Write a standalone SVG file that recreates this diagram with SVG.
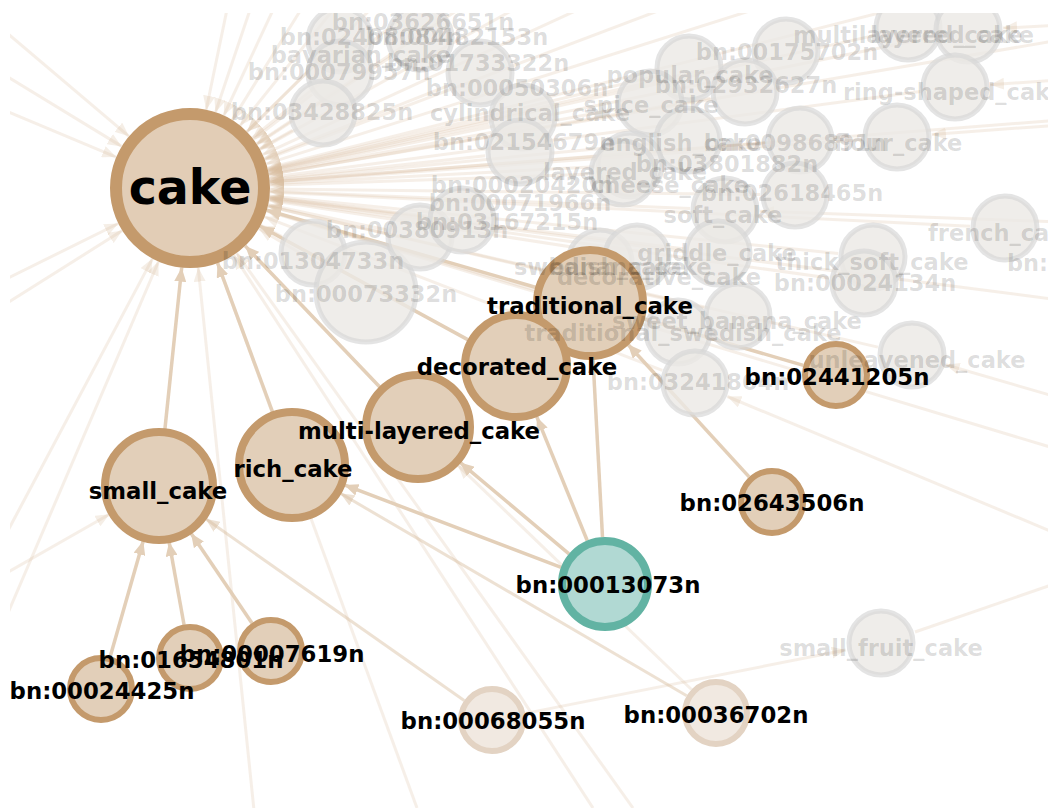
<svg xmlns="http://www.w3.org/2000/svg" width="1052" height="808" viewBox="0 0 1052 808">
<defs>
<style>
.e{stroke:#e3cfb8;stroke-width:3.5;fill:none;marker-end:url(#a)}
.m{stroke:#d8bd9e;stroke-opacity:.45;stroke-width:3;fill:none;marker-end:url(#am)}
.f{stroke:#d8bd9e;stroke-opacity:.24;stroke-width:3;fill:none;marker-end:url(#af)}
.fn{fill:#ebe8e5;fill-opacity:.8;stroke:#d6d6d6;stroke-opacity:.65;stroke-width:5}
.n{fill:#e2cfb9;stroke:#c49a6c;stroke-width:8}
.s{fill:#e2cfb9;stroke:#c49a6c;stroke-width:6}
.p{fill:#f1e9e1;stroke:#e3d3c3;stroke-width:6}
.t{font-family:"DejaVu Sans","Liberation Sans",sans-serif;font-weight:bold;font-size:22.8px;text-anchor:middle;fill:#000}
.ft{font-family:"DejaVu Sans","Liberation Sans",sans-serif;font-weight:bold;font-size:22.5px;text-anchor:middle;fill:#000;fill-opacity:.14}
.st{text-anchor:start}
</style>
<marker id="a" markerUnits="userSpaceOnUse" viewBox="0 0 14 12" markerWidth="14" markerHeight="12" refX="14" refY="6" orient="auto"><path d="M0,0L14,6L0,12z" fill="#e3cfb8"/></marker>
<marker id="am" markerUnits="userSpaceOnUse" viewBox="0 0 14 12" markerWidth="14" markerHeight="12" refX="14" refY="6" orient="auto"><path d="M0,0L14,6L0,12z" fill="#d8bd9e" fill-opacity=".45"/></marker>
<marker id="af" markerUnits="userSpaceOnUse" viewBox="0 0 14 12" markerWidth="14" markerHeight="12" refX="14" refY="6" orient="auto"><path d="M0,0L14,6L0,12z" fill="#d8bd9e" fill-opacity=".26"/></marker>
<clipPath id="vp"><rect x="10" y="13" width="1038" height="795"/></clipPath>
</defs>
<rect width="1052" height="808" fill="#fff"/>
<g clip-path="url(#vp)">
<g id="connectors">
<line class="f" x1="315.1" y1="64.6" x2="247" y2="131.8"/>
<line class="f" x1="312.2" y1="94.3" x2="253.5" y2="139.3"/>
<line class="f" x1="292.5" y1="130.2" x2="259.7" y2="148.7"/>
<line class="f" x1="447.5" y1="85.9" x2="264.4" y2="158.5"/>
<line class="f" x1="488.8" y1="124.3" x2="268.2" y2="171.3"/>
<line class="f" x1="485.2" y1="155.8" x2="269.5" y2="179.3"/>
<line class="f" x1="655" y1="76.2" x2="267.8" y2="169.3"/>
<line class="f" x1="751.9" y1="58.8" x2="268" y2="170.1"/>
<line class="f" x1="615.6" y1="109.4" x2="268.7" y2="173.5"/>
<line class="f" x1="710.5" y1="98" x2="268.8" y2="174.4"/>
<line class="f" x1="873.8" y1="35.6" x2="268.1" y2="170.6"/>
<line class="f" x1="933.7" y1="37" x2="268.4" y2="172.1"/>
<line class="f" x1="920.3" y1="91.6" x2="269.3" y2="177.5"/>
<line class="f" x1="862.1" y1="139.5" x2="269.8" y2="182.2"/>
<line class="f" x1="765.1" y1="142.7" x2="269.8" y2="181.7"/>
<line class="f" x1="653.2" y1="143.4" x2="269.6" y2="180.3"/>
<line class="f" x1="595" y1="166.8" x2="269.9" y2="183.8"/>
<line class="f" x1="760" y1="194.6" x2="270" y2="188.9"/>
<line class="f" x1="690" y1="208.6" x2="269.9" y2="191.3"/>
<line class="f" x1="683.3" y1="248.7" x2="269.4" y2="197.8"/>
<line class="f" x1="838.2" y1="253.5" x2="269.6" y2="196"/>
<line class="f" x1="829.3" y1="278.1" x2="269.2" y2="199.2"/>
<line class="f" x1="970" y1="226.3" x2="269.9" y2="191.9"/>
<line class="f" x1="703.9" y1="308" x2="267.9" y2="206.2"/>
<line class="f" x1="644.4" y1="322.1" x2="266.7" y2="210.6"/>
<line class="f" x1="877.9" y1="347.1" x2="267.9" y2="206"/>
<line class="f" x1="662.3" y1="370.4" x2="264.6" y2="216.8"/>
<line class="f" x1="282" y1="236.6" x2="260.7" y2="225.4"/>
<line class="f" x1="318.6" y1="264" x2="258.9" y2="228.7"/>
<line class="f" x1="385.8" y1="229.7" x2="268.2" y2="204.7"/>
<line class="f" x1="427.2" y1="215.9" x2="269.4" y2="197.3"/>
<line class="f" x1="602.4" y1="251.7" x2="269.1" y2="200.2"/>
<line class="f" x1="588" y1="174.2" x2="270" y2="185.2"/>
<line class="f" x1="390.7" y1="57.1" x2="257" y2="144.3"/>
<line class="f" x1="230" y1="-5" x2="206.2" y2="109.7"/>
<line class="f" x1="255" y1="-5" x2="215.5" y2="112.2"/>
<line class="f" x1="280" y1="-5" x2="223.8" y2="115.5"/>
<line class="f" x1="310" y1="-5" x2="232.2" y2="120.1"/>
<line class="f" x1="345" y1="-5" x2="240.1" y2="125.6"/>
<line class="f" x1="385" y1="-5" x2="246.9" y2="131.7"/>
<line class="f" x1="430" y1="-5" x2="252.3" y2="137.9"/>
<line class="f" x1="480" y1="-5" x2="256.6" y2="143.7"/>
<line class="f" x1="540" y1="-5" x2="260.1" y2="149.4"/>
<line class="f" x1="610" y1="-5" x2="262.7" y2="154.6"/>
<line class="f" x1="700" y1="-5" x2="264.8" y2="159.7"/>
<line class="f" x1="800" y1="-5" x2="266.3" y2="163.9"/>
<line class="f" x1="950" y1="-5" x2="267.5" y2="168.3"/>
<line class="f" x1="1060" y1="40" x2="268.9" y2="174.6"/>
<line class="f" x1="1060" y1="120" x2="269.8" y2="181.8"/>
<line class="f" x1="1060" y1="300" x2="269.3" y2="198.2"/>
<line class="f" x1="1060" y1="450" x2="266.6" y2="211.1"/>
<line class="f" x1="-20" y1="10" x2="129" y2="136.3"/>
<line class="f" x1="-20" y1="60" x2="121.7" y2="146.4"/>
<line class="f" x1="-20" y1="100" x2="116.2" y2="157.1"/>
<line class="f" x1="-20" y1="292" x2="118.3" y2="223.5"/>
<line class="f" x1="-20" y1="320" x2="122.3" y2="230.6"/>
<line class="f" x1="-5" y1="555" x2="152.5" y2="258.6"/>
<line class="f" x1="-10" y1="655" x2="158.5" y2="261.5"/>
<line class="f" x1="255" y1="820" x2="198.2" y2="267.6"/>
<line class="f" x1="417" y1="808" x2="217.5" y2="263.1"/>
<line class="f" x1="593" y1="808" x2="233.6" y2="255.1"/>
<line class="f" x1="633" y1="808" x2="236.5" y2="253.1"/>
<line class="f" x1="-20" y1="588" x2="109.5" y2="514.2"/>
<line class="f" x1="1060" y1="25" x2="1003" y2="28.1"/>
<line class="f" x1="1060" y1="80" x2="990" y2="84.7"/>
<line class="f" x1="1060" y1="125" x2="931.9" y2="134.4"/>
<line class="f" x1="1060" y1="222" x2="760" y2="211.3"/>
<line class="f" x1="1060" y1="398" x2="945.6" y2="364.8"/>
<line class="f" x1="1060" y1="535" x2="727.3" y2="396.5"/>
<line class="f" x1="915" y1="632" x2="1060" y2="582" style="marker-end:none"/>
<line class="f" x1="525.4" y1="713.4" x2="845.7" y2="650"/>
<line class="m" x1="464.2" y1="700.5" x2="205.6" y2="518.8"/>
<line class="m" x1="686.7" y1="695.8" x2="340.3" y2="493.3"/>
<line class="f" x1="691.5" y1="689.5" x2="457.7" y2="465.1"/>
<line class="e" x1="164.9" y1="429.3" x2="181.7" y2="267.6"/>
<line class="e" x1="272.7" y1="412.4" x2="217.6" y2="263.1"/>
<line class="e" x1="380" y1="387.2" x2="245.2" y2="245.9"/>
<line class="e" x1="467.7" y1="339.6" x2="260.2" y2="226.3"/>
<line class="e" x1="536.2" y1="287.5" x2="266.9" y2="210.1"/>
<line class="e" x1="110.3" y1="656.3" x2="143.3" y2="540.8"/>
<line class="e" x1="184" y1="624.5" x2="169.1" y2="542.1"/>
<line class="e" x1="251.9" y1="622.9" x2="191" y2="533.2"/>
<line class="e" x1="561.1" y1="567.3" x2="344.3" y2="484.9"/>
<line class="e" x1="569" y1="553.8" x2="460.1" y2="462.4"/>
<line class="e" x1="587.2" y1="540.5" x2="536.8" y2="416.9"/>
<line class="e" x1="602.5" y1="537.1" x2="593" y2="358.9"/>
<line class="e" x1="749.1" y1="476.9" x2="627.8" y2="344.3"/>
<line class="e" x1="803.4" y1="365.4" x2="643.7" y2="318.7"/>
</g>
<g id="faded-nodes">
<g id="f1"><circle class="fn" cx="340" cy="40" r="32"/></g>
<g id="f36"><circle class="fn" cx="420" cy="38" r="32"/></g>
<g id="f2"><circle class="fn" cx="340" cy="73" r="32"/></g>
<g id="f3"><circle class="fn" cx="323" cy="113" r="32"/></g>
<g id="f4"><circle class="fn" cx="480" cy="73" r="32"/></g>
<g id="f5"><circle class="fn" cx="523" cy="117" r="32"/></g>
<g id="f6"><circle class="fn" cx="520" cy="152" r="32"/></g>
<g id="f7"><circle class="fn" cx="689" cy="68" r="32"/></g>
<g id="f8"><circle class="fn" cx="786" cy="51" r="32"/></g>
<g id="f9"><circle class="fn" cx="650" cy="103" r="32"/></g>
<g id="f10"><circle class="fn" cx="745" cy="92" r="32"/></g>
<g id="f11"><circle class="fn" cx="908" cy="28" r="32"/></g>
<g id="f12"><circle class="fn" cx="968" cy="30" r="32"/></g>
<g id="f13"><circle class="fn" cx="955" cy="87" r="32"/></g>
<g id="f14"><circle class="fn" cx="897" cy="137" r="32"/></g>
<g id="f15"><circle class="fn" cx="800" cy="140" r="32"/></g>
<g id="f16"><circle class="fn" cx="688" cy="140" r="32"/></g>
<g id="f17"><circle class="fn" cx="630" cy="165" r="32"/></g>
<g id="f34"><circle class="fn" cx="623" cy="173" r="32"/></g>
<g id="f18"><circle class="fn" cx="795" cy="195" r="32"/></g>
<g id="f19"><circle class="fn" cx="725" cy="210" r="32"/></g>
<g id="f20"><circle class="fn" cx="718" cy="253" r="32"/></g>
<g id="f21"><circle class="fn" cx="873" cy="257" r="32"/></g>
<g id="f22"><circle class="fn" cx="864" cy="283" r="32"/></g>
<g id="f23"><circle class="fn" cx="1005" cy="228" r="32"/></g>
<g id="f24"><circle class="fn" cx="738" cy="316" r="32"/></g>
<g id="f25"><circle class="fn" cx="678" cy="332" r="32"/></g>
<g id="f26"><circle class="fn" cx="912" cy="355" r="32"/></g>
<g id="f27"><circle class="fn" cx="695" cy="383" r="32"/></g>
<g id="f28"><circle class="fn" cx="313" cy="253" r="32"/></g>
<g id="f29"><circle class="fn" cx="366" cy="292" r="50"/></g>
<g id="f30"><circle class="fn" cx="420" cy="237" r="32"/></g>
<g id="f31"><circle class="fn" cx="462" cy="220" r="32"/></g>
<g id="f32"><circle class="fn" cx="600" cy="262" r="32"/></g>
<g id="f33"><circle class="fn" cx="637" cy="257" r="32"/></g>
<g id="f35"><circle class="fn" cx="881" cy="643" r="32"/></g>
</g>
<g id="nodes">
<g id="n-bn00068055n"><circle class="p" cx="492" cy="720" r="31"/></g>
<g id="n-bn00036702n"><circle class="p" cx="716" cy="713" r="31"/></g>
<g id="n-cake"><circle cx="190" cy="188" r="74" fill="#e2cdb6" stroke="#c49a6c" stroke-width="12"/></g>
<g id="n-traditional_cake"><circle class="n" cx="590" cy="303" r="53"/></g>
<g id="n-decorated_cake"><circle class="n" cx="516" cy="366" r="51"/></g>
<g id="n-multi-layered_cake"><circle class="n" cx="418" cy="427" r="52"/></g>
<g id="n-rich_cake"><circle class="n" cx="292" cy="465" r="53"/></g>
<g id="n-small_cake"><circle class="n" cx="159" cy="486" r="54"/></g>
<g id="n-bn02441205n"><circle class="s" cx="836" cy="375" r="31"/></g>
<g id="n-bn02643506n"><circle class="s" cx="772" cy="502" r="31"/></g>
<g id="n-bn00013073n"><circle cx="605" cy="584" r="43" fill="#b1d9d3" stroke="#62b3a3" stroke-width="8"/></g>
<g id="n-bn00024425n"><circle class="s" cx="101" cy="689" r="31"/></g>
<g id="n-bn01654801n"><circle class="s" cx="190" cy="658" r="31"/></g>
<g id="n-bn00007619n"><circle class="s" cx="271" cy="651" r="31"/></g>
</g>
<g id="faded-labels">
<text class="ft" x="423" y="30">bn:03626651n</text>
<text class="ft" x="371" y="45">bn:02408084n</text>
<text class="ft" x="457" y="45">bn:00482153n</text>
<text class="ft" x="361" y="63">bavarian_cake</text>
<text class="ft" x="478" y="71">bn:01733322n</text>
<text class="ft" x="339" y="80">bn:00079957n</text>
<text class="ft" x="517" y="96">bn:00050306n</text>
<text class="ft" x="322" y="120">bn:03428825n</text>
<text class="ft" x="530" y="121">cylindrical_cake</text>
<text class="ft" x="524" y="150">bn:02154679n</text>
<text class="ft" x="787" y="60">bn:00175702n</text>
<text class="ft st" x="793" y="43">multilayered_cake</text>
<text class="ft st" x="870" y="43">layered_cake</text>
<text class="ft" x="690" y="83">popular_cake</text>
<text class="ft" x="746" y="93">bn:02932627n</text>
<text class="ft st" x="843" y="100">ring-shaped_cake</text>
<text class="ft" x="651" y="113">spice_cake</text>
<text class="ft" x="681" y="151">english_cake</text>
<text class="ft" x="795" y="151">bn:00986891n</text>
<text class="ft" x="898" y="151">flour_cake</text>
<text class="ft" x="727" y="172">bn:03801882n</text>
<text class="ft" x="625" y="180">layered_cake</text>
<text class="ft" x="670" y="193">cheese_cake</text>
<text class="ft" x="792" y="201">bn:02618465n</text>
<text class="ft" x="522" y="193">bn:00020420n</text>
<text class="ft" x="520" y="211">bn:00071966n</text>
<text class="ft" x="723" y="223">soft_cake</text>
<text class="ft" x="507" y="230">bn:03167215n</text>
<text class="ft" x="417" y="238">bn:00380913n</text>
<text class="ft" x="313" y="269">bn:01304733n</text>
<text class="ft" x="366" y="302">bn:00073332n</text>
<text class="ft" x="717" y="261">griddle_cake</text>
<text class="ft" x="600" y="275">swedish_cake</text>
<text class="ft" x="630" y="275">banana_cake</text>
<text class="ft" x="659" y="285">decorative_cake</text>
<text class="ft" x="872" y="270">thick_soft_cake</text>
<text class="ft" x="865" y="291">bn:00024134n</text>
<text class="ft st" x="928" y="241">french_cake</text>
<text class="ft st" x="1007" y="271">bn:00958120n</text>
<text class="ft" x="737" y="329">sweet_banana_cake</text>
<text class="ft" x="683" y="341">traditional_swedish_cake</text>
<text class="ft" x="698" y="390">bn:03241864n</text>
<text class="ft" x="917" y="368">unleavened_cake</text>
<text class="ft" x="881" y="656">small_fruit_cake</text>
</g>
<g id="labels">
<text class="t" x="493" y="729">bn:00068055n</text>
<text class="t" x="716" y="723">bn:00036702n</text>
<text class="t" x="190" y="204" style="font-size:47.5px">cake</text>
<text class="t" x="590" y="314">traditional_cake</text>
<text class="t" x="517" y="375">decorated_cake</text>
<text class="t" x="419" y="439">multi-layered_cake</text>
<text class="t" x="293" y="477">rich_cake</text>
<text class="t" x="158" y="499">small_cake</text>
<text class="t" x="837" y="385">bn:02441205n</text>
<text class="t" x="772" y="511">bn:02643506n</text>
<text class="t" x="608" y="593">bn:00013073n</text>
<text class="t" x="102" y="699">bn:00024425n</text>
<text class="t" x="191" y="668">bn:01654801n</text>
<text class="t" x="272" y="662">bn:00007619n</text>
</g>
</g>
</svg>
